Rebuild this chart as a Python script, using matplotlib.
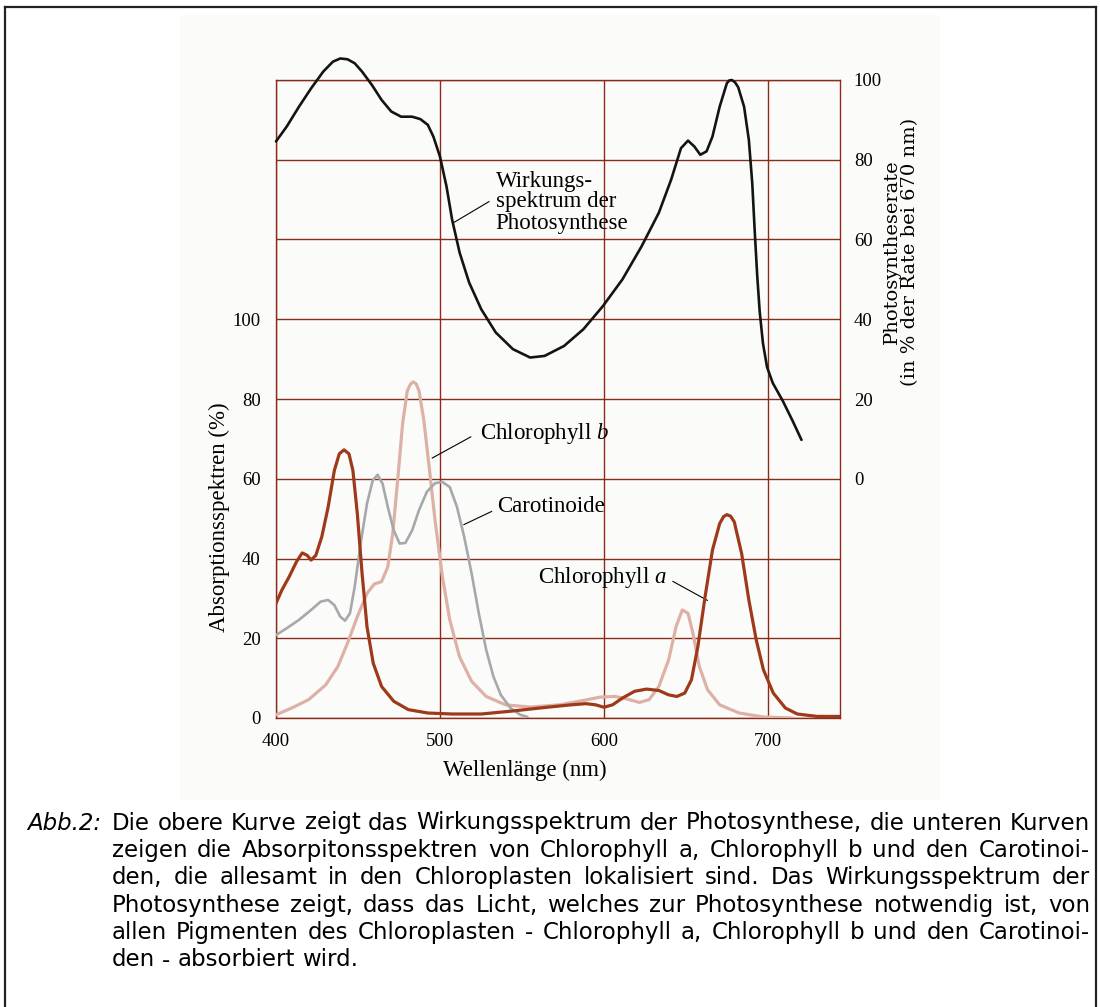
import matplotlib
matplotlib.use('Agg')
import matplotlib.pyplot as plt
from matplotlib.font_manager import FontProperties
from matplotlib.lines import Line2D
from matplotlib.patches import Rectangle

W, H = 1100, 1007
DPI = 100

# ---------------- data ----------------
# action spectrum (right axis, % of rate at 670 nm)
wl_action = [400, 406.5, 414, 421.4, 428.8, 434.7, 439.2, 443.6, 448, 452.5, 458.5,
             464.4, 470.3, 476.3, 483, 488, 492.6, 496, 500, 504, 507.4, 512, 517.8,
             525.2, 534, 544.5, 555, 563.8, 575.7, 587.5, 599.4, 611.3, 623, 633.5,
             641, 647, 651.3, 655.2, 658.8, 662.6, 666.2, 670.6, 675, 676.5, 678, 680,
             681.9, 685.5, 688.4, 690.5, 692, 693.5, 695, 697, 699.5, 703, 709, 715,
             720.5]
rate_action = [84.6, 88.3, 93.3, 97.9, 102.1, 104.6, 105.4, 105.2, 104.2, 102.1, 98.75,
               95, 92.1, 90.8, 90.8, 90.2, 88.75, 85.8, 80.8, 73.3, 65, 56.7, 49.2,
               42.5, 36.7, 32.5, 30.4, 30.8, 33.3, 37.5, 43.3, 50, 58.3, 66.7,
               75, 82.9, 84.8, 83.3, 81.25, 82.1, 85.8, 93.3, 99.2, 99.9, 100, 99.4,
               98.2, 93.3, 85, 74, 62, 51, 42, 34, 28, 24, 19.6, 14.6,
               9.75]

# chlorophyll a absorption (left axis, %)
wl_chla = [400, 403.6, 408, 412.5, 416, 419, 421.4, 424.3, 427.9, 431.8, 435.6, 438.6,
           441.5, 444.5, 446.9, 449.6, 452.5, 455.5, 459.3, 464.4, 471.8, 480.7, 492.6,
           507.4, 525.2, 543, 560.8, 578.6, 589, 595, 600, 605.3, 611.3, 618.7, 626,
           633.5, 639.5, 644.5, 649.3, 653.4, 657.3, 661.7, 666.2, 670.6, 673, 675,
           677.3, 679.5, 684, 688.4, 692.9, 697.3, 703.3, 710.7, 718, 730, 744]
abs_chla = [28.75, 32.1, 35.4, 39.2, 41.4, 40.8, 39.6, 40.8, 45.4, 52.9, 62.1, 66.25,
            67.25, 66.25, 62.1, 51.25, 36.25, 22.9, 13.75, 7.9, 4.2, 2.1, 1.25,
            1, 1, 1.7, 2.5, 3.25, 3.6, 3.3, 2.7, 3.3, 5, 6.7, 7.25,
            6.9, 5.8, 5.4, 6.25, 9.6, 17.9, 30.4, 42.1, 48.75, 50.5, 51,
            50.6, 49.2, 41.25, 29.6, 19.6, 12.1, 6.25, 2.5, 1, 0.4, 0.4]

# chlorophyll b absorption (left axis, %)
wl_chlb = [400, 409.5, 419.9, 430.3, 437.7, 443.6, 449.6, 455.5, 460, 464.4, 468.2,
           471.2, 474.2, 477.2, 480.1, 482, 483.7, 485.5, 487.2, 490.2, 493.2, 497,
           501.5, 506, 511.9, 519.3, 528.2, 540, 555, 572.7, 587.5, 597.9, 606.8,
           614.2, 621.7, 627.6, 633.5, 639.5, 644, 647.8, 651.3, 654.3, 658.2, 663.2,
           670.6, 682.5, 697.3, 715]
abs_chlb = [0.8, 2.5, 4.6, 8.3, 12.9, 18.75, 25.4, 31.25, 33.6, 34.2, 37.9,
            46.25, 59.6, 73.75, 82.1, 83.7, 84.3, 83.8, 82.1, 74.6, 63.75, 49.6,
            35.4, 24.6, 15.4, 9.2, 5.4, 3.3, 2.75, 3.3, 4.4, 5.25, 5.4,
            4.75, 3.9, 4.6, 7.9, 14.6, 22.9, 27.1, 26.25, 21.25, 12.9, 7.1,
            3.3, 1.25, 0.25, 0]

# carotenoids absorption (left axis, %)
wl_car = [400, 406.5, 414, 421.4, 427.3, 431.8, 435.6, 439.2, 442.1, 445.1, 448,
          451.6, 455.5, 459, 462, 465, 468.2, 471.8, 475.4, 478.9, 483.1, 487.2,
          492, 497, 501.5, 506, 510.4, 514.8, 519.3, 523.7, 528.2, 532.6, 537.1,
          543, 549, 553.4]
abs_car = [20.8, 22.5, 24.6, 27.1, 29.2, 29.6, 28.3, 25.4, 24.4, 26.25, 32.9,
           43.75, 53.75, 59.6, 61, 58.75, 52.9, 47.1, 43.75, 43.9, 47.1, 52.1,
           56.7, 58.9, 59.2, 57.9, 52.9, 45.4, 36.25, 26.25, 17.1, 10.4, 5.8,
           2.5, 0.8, 0.25]

x_ticks = [400, 500, 600, 700]
left_ticks = [0, 20, 40, 60, 80, 100]
right_ticks = [0, 20, 40, 60, 80, 100]

caption_tag = "Abb.2:"
caption_lines = [
    "Die obere Kurve zeigt das Wirkungsspektrum der Photosynthese, die unteren Kurven",
    "zeigen die Absorpitonsspektren von Chlorophyll a, Chlorophyll b und den Carotinoi-",
    "den, die allesamt in den Chloroplasten lokalisiert sind. Das Wirkungsspektrum der",
    "Photosynthese zeigt, dass das Licht, welches zur Photosynthese notwendig ist, von",
    "allen Pigmenten des Chloroplasten - Chlorophyll a, Chlorophyll b und den Carotinoi-",
    "den - absorbiert wird.",
]

# ---------------- style ----------------
GRID = '#8B2B1C'
C_CHLA = '#9E3A1B'
C_CHLB = '#DDB1A5'
C_CAR = '#A6A8AC'
C_ACT = '#141414'
SERIF = 'Liberation Serif'
TICK = 13.5

plt.rcParams['mathtext.fontset'] = 'custom'
plt.rcParams['mathtext.rm'] = SERIF
plt.rcParams['mathtext.it'] = SERIF + ':italic'
plt.rcParams['lines.solid_joinstyle'] = 'round'

fig = plt.figure(figsize=(W / DPI, H / DPI), dpi=DPI)
fig.patch.set_facecolor('white')


def fx(px):
    return px / W


def fy(py):
    return 1 - py / H


# faint scanned-page background
fig.patches.append(Rectangle((fx(180), fy(800)), fx(940) - fx(180), fy(15) - fy(800),
                             transform=fig.transFigure, facecolor='#FBFCFA',
                             edgecolor='none', zorder=-10))

ax = fig.add_axes([fx(276), fy(718), (840 - 276) / W, (718 - 80) / H])
ax.set_facecolor('none')
ax.set_xlim(400, 744)
ax.set_ylim(0, 160)
ax.set_xticks(x_ticks)
ax.set_xticklabels([str(v) for v in x_ticks], fontfamily=SERIF, fontsize=TICK)
ax.set_yticks(list(range(0, 161, 20)))
ax.set_yticklabels([str(v) if v in left_ticks else '' for v in range(0, 161, 20)],
                   fontfamily=SERIF, fontsize=TICK)
ax.tick_params(axis='both', length=0)
ax.tick_params(axis='y', pad=11)
ax.tick_params(axis='x', pad=11)
ax.grid(True, color=GRID, lw=1.0)
for s in ax.spines.values():
    s.set_color(GRID)
    s.set_linewidth(1.0)

ax2 = ax.twinx()
ax2.set_ylim(-60, 100)
ax2.set_yticks(right_ticks)
ax2.set_yticklabels([str(v) for v in right_ticks], fontfamily=SERIF, fontsize=TICK)
ax2.tick_params(axis='y', length=0, pad=10)
for s in ax2.spines.values():
    s.set_visible(False)

# curves
ax.plot(wl_chlb, abs_chlb, color=C_CHLB, lw=2.3, zorder=3, solid_capstyle='round')
ax.plot(wl_car, abs_car, color=C_CAR, lw=1.9, zorder=3, solid_capstyle='round')
ax.plot(wl_chla, abs_chla, color=C_CHLA, lw=2.3, zorder=4, solid_capstyle='round')
ax2.plot(wl_action, rate_action, color=C_ACT, lw=1.9, zorder=5, clip_on=False,
         solid_capstyle='round')

# curve labels with leader lines
LBL = 16.5
for txt, yv in [("Wirkungs-", 134.5), ("spektrum der", 129.5), ("Photosynthese", 124.1)]:
    ax.text(533.9, yv, txt, fontfamily=SERIF, fontsize=LBL, ha='left', va='center')
ax.plot([529.9, 507.8], [129.5, 124.1], color='black', lw=0.8)

ax.text(524.4, 71.25, "Chlorophyll $\\mathit{b}$", fontfamily=SERIF, fontsize=LBL,
        ha='left', va='center')
ax.plot([518.8, 495.3], [70.5, 65.2], color='black', lw=0.8)

ax.text(535.1, 53.0, "Carotinoide", fontfamily=SERIF, fontsize=LBL, ha='left', va='center')
ax.plot([531.5, 514.6], [51.8, 48.5], color='black', lw=0.8)

ax.text(559.8, 35.3, "Chlorophyll $\\mathit{a}$", fontfamily=SERIF, fontsize=LBL,
        ha='left', va='center')
ax.plot([642.1, 663.1], [34.25, 29.5], color='black', lw=0.8)

# axis titles
fig.text(fx(525), fy(770), "Wellenlänge (nm)", fontfamily=SERIF, fontsize=16.5,
         ha='center', va='center')
fig.text(fx(219), fy(517), "Absorptionsspektren (%)", fontfamily=SERIF, fontsize=16.5,
         rotation=90, ha='center', va='center')
fig.text(fx(892), fy(252), "Photosyntheserate", fontfamily='DejaVu Serif', fontsize=14,
         rotation=90, ha='center', va='center')
fig.text(fx(910), fy(252), "(in % der Rate bei 670 nm)", fontfamily='DejaVu Serif',
         fontsize=14, rotation=90, ha='center', va='center')

# outer frame
for (x0, y0, x1, y1) in [(5, 7, 1096, 7), (5, 7, 5, 1007), (1096, 7, 1096, 1007)]:
    fig.add_artist(Line2D([fx(x0), fx(x1)], [fy(y0), fy(y1)], transform=fig.transFigure,
                          color='#222222', lw=1.6))

# caption with justified lines
fig.canvas.draw()
renderer = fig.canvas.get_renderer()
left_px, right_px = 111.7, 1090


def tw(s, fp):
    w, h, d = renderer.get_text_width_height_descent(s, fp, ismath=False)
    return w


probe = FontProperties(family='DejaVu Sans', size=10)
CAP = 10 * 968 / tw(caption_lines[0], probe)
cap_fp = FontProperties(family='DejaVu Sans', size=CAP)
tag_fp = FontProperties(family='DejaVu Sans', style='italic', size=CAP)

space_w = tw('a a', cap_fp) - 2 * tw('a', cap_fp)
base0, step = 829.5, 27.4
fig.text(fx(27), fy(base0), caption_tag, fontproperties=tag_fp, ha='left', va='baseline')
for i, line in enumerate(caption_lines):
    words = line.split(' ')
    widths = [tw(w, cap_fp) for w in words]
    if i < len(caption_lines) - 1 and len(words) > 1:
        gap = (right_px - left_px - sum(widths)) / (len(words) - 1)
    else:
        gap = space_w
    x = left_px
    yb = base0 + i * step
    for w, wd in zip(words, widths):
        fig.text(fx(x), fy(yb), w, fontproperties=cap_fp, ha='left', va='baseline')
        x += wd + gap

fig.savefig('out.png', dpi=DPI, facecolor='white')
